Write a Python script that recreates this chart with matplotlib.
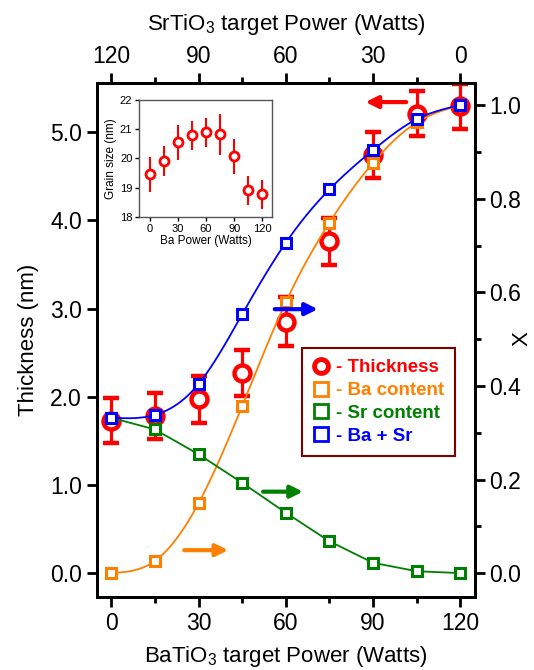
import numpy as np
import matplotlib
matplotlib.use('Agg')
import matplotlib.pyplot as plt
from matplotlib.lines import Line2D

plt.rcParams['font.family'] = ['Liberation Sans', 'DejaVu Sans']
plt.rcParams['mathtext.default'] = 'regular'

# BaTiO3 target power (W); SrTiO3 power is 120 - this
ba_power = [0, 15, 30, 45, 60, 75, 90, 105, 120]

# film thickness (nm), left axis
thickness = [1.73, 1.78, 1.97, 2.27, 2.85, 3.76, 4.74, 5.21, 5.29]
thickness_err = [0.26, 0.26, 0.27, 0.26, 0.28, 0.27, 0.26, 0.26, 0.26]

# composition X, right axis
ba_content = [0.0, 0.026, 0.149, 0.357, 0.579, 0.749, 0.877, 0.963, 1.0]
sr_content = [0.332, 0.307, 0.254, 0.193, 0.129, 0.068, 0.022, 0.004, 0.0]
ba_sr = [0.332, 0.338, 0.404, 0.553, 0.706, 0.820, 0.904, 0.970, 1.0]

# inset: grain size vs Ba power
grain_size = [19.45, 19.91, 20.56, 20.79, 20.89, 20.83, 20.08, 18.91, 18.77]
grain_err = [0.6, 0.5, 0.6, 0.5, 0.5, 0.7, 0.6, 0.5, 0.5]

RED = '#ff0000'
ORANGE = '#ff8000'
GREEN = '#008000'
BLUE = '#0000ff'


def smooth(x, y, n=300):
    # natural cubic spline through the points
    x = np.asarray(x, float)
    y = np.asarray(y, float)
    k = len(x)
    h = np.diff(x)
    A = np.zeros((k, k))
    b = np.zeros(k)
    A[0, 0] = A[-1, -1] = 1.0
    for i in range(1, k - 1):
        A[i, i - 1] = h[i - 1]
        A[i, i] = 2 * (h[i - 1] + h[i])
        A[i, i + 1] = h[i]
        b[i] = 6 * ((y[i + 1] - y[i]) / h[i] - (y[i] - y[i - 1]) / h[i - 1])
    M = np.linalg.solve(A, b)
    xs = np.linspace(x[0], x[-1], n)
    idx = np.clip(np.searchsorted(x, xs) - 1, 0, k - 2)
    x0, x1 = x[idx], x[idx + 1]
    hh = x1 - x0
    t0, t1 = x1 - xs, xs - x0
    ys = (M[idx] * t0 ** 3 + M[idx + 1] * t1 ** 3) / (6 * hh) \
        + (y[idx] / hh - M[idx] * hh / 6) * t0 \
        + (y[idx + 1] / hh - M[idx + 1] * hh / 6) * t1
    return xs, ys


fig = plt.figure(figsize=(5.34, 6.70), dpi=100)
ax = fig.add_axes([0.181, 0.109, 0.7084, 0.7676])
ax2 = ax.twinx()

# thickness
ax.errorbar(ba_power, thickness, yerr=thickness_err, fmt='o', color=RED,
            mfc='white', mec=RED, ms=11.5, mew=3.2, elinewidth=2.3,
            capsize=5.5, capthick=2.3, zorder=3)

# composition curves
xs, ys = smooth(ba_power, ba_content)
ax2.plot(xs, ys, color=ORANGE, lw=1.3)
ax2.plot(ba_power, sr_content, color=GREEN, lw=1.3)
xs, ys = smooth(ba_power, ba_sr)
ax2.plot(xs, ys, color=BLUE, lw=1.3)
for vals, c in [(ba_content, ORANGE), (sr_content, GREEN), (ba_sr, BLUE)]:
    ax2.plot(ba_power, vals, ls='none', marker='s', ms=7.5, mfc='white',
             mec=c, mew=2.2)

# arrows pointing to each axis
arr = dict(arrowstyle='-|>', lw=3, mutation_scale=18, shrinkA=0, shrinkB=0)
ax.annotate('', xy=(87.4, 5.34), xytext=(101.4, 5.34),
            arrowprops=dict(arr, color=RED))
ax2.annotate('', xy=(71, 0.564), xytext=(56.2, 0.564),
             arrowprops=dict(arr, color=BLUE))
ax2.annotate('', xy=(65.9, 0.174), xytext=(52.2, 0.174),
             arrowprops=dict(arr, color=GREEN))
ax2.annotate('', xy=(40.2, 0.049), xytext=(25.1, 0.049),
             arrowprops=dict(arr, color=ORANGE))

ax.set_xlim(-5, 125)
ax.set_ylim(-0.27, 5.56)
ax2.set_ylim(-0.051, 1.048)

ax.set_xticks([0, 30, 60, 90, 120])
ax.set_xticks([15, 45, 75, 105], minor=True)
ax.set_yticks([0, 1, 2, 3, 4, 5])
ax.set_yticklabels(['0.0', '1.0', '2.0', '3.0', '4.0', '5.0'])
ax2.set_yticks([0, 0.2, 0.4, 0.6, 0.8, 1.0])
ax2.set_yticks([0.1, 0.3, 0.5, 0.7, 0.9], minor=True)

for a in (ax, ax2):
    a.tick_params(which='major', direction='out', length=7, width=2,
                  labelsize=16.5)
    a.tick_params(which='minor', direction='out', length=4, width=2)
    for s in a.spines.values():
        s.set_linewidth(2)

sec = ax.secondary_xaxis('top', functions=(lambda x: 120 - x, lambda x: 120 - x))
sec.set_xticks([120, 90, 60, 30, 0])
sec.set_xticks([105, 75, 45, 15], minor=True)
sec.tick_params(which='major', direction='out', length=7, width=2, labelsize=16.5)
sec.tick_params(which='minor', direction='out', length=4, width=2)
sec.spines['top'].set_linewidth(2)
sec.set_xlabel('SrTiO$_3$ target Power (Watts)', fontsize=16, labelpad=11)

ax.set_xlabel('BaTiO$_3$ target Power (Watts)', fontsize=16, labelpad=7)
ax.set_ylabel('Thickness (nm)', fontsize=16, labelpad=8)
# right axis title
fig.text(0.978, 0.494, 'X', rotation=90, fontsize=16, ha='center', va='center')

# legend
handles = [
    Line2D([], [], ls='none', marker='o', ms=10, mfc='white', mec=RED, mew=3.5),
    Line2D([], [], ls='none', marker='s', ms=10, mfc='white', mec=ORANGE, mew=2),
    Line2D([], [], ls='none', marker='s', ms=10, mfc='white', mec=GREEN, mew=2),
    Line2D([], [], ls='none', marker='s', ms=10, mfc='white', mec=BLUE, mew=2),
]
labels = ['- Thickness', '- Ba content', '- Sr content', '- Ba + Sr']
leg = ax2.legend(handles, labels, loc='upper left', bbox_to_anchor=(0.543, 0.484),
                 prop=dict(weight='bold', size=13.5), fancybox=False,
                 edgecolor='#800000', framealpha=1, handlelength=0.8,
                 handletextpad=0.4, borderpad=0.6, labelspacing=0.3,
                 borderaxespad=0)
leg.get_frame().set_linewidth(1.5)
for t, c in zip(leg.get_texts(), [RED, ORANGE, GREEN, BLUE]):
    t.set_color(c)

# inset
axin = fig.add_axes([0.261, 0.6766, 0.248, 0.174])
axin.errorbar(ba_power, grain_size, yerr=grain_err, fmt='o', color=RED,
              mfc='white', mec=RED, ms=6.5, mew=2, elinewidth=1.5,
              capsize=0, zorder=3)
axin.set_xlim(-11, 130)
axin.set_ylim(18, 22)
axin.set_xticks([0, 30, 60, 90, 120])
axin.set_yticks([18, 19, 20, 21, 22])
axin.tick_params(direction='out', length=3, width=1, labelsize=8, pad=2,
                 colors='black')
for s in axin.spines.values():
    s.set_color('#555555')
    s.set_linewidth(1)
axin.set_xlabel('Ba Power (Watts)', fontsize=8.5, labelpad=1)
axin.set_ylabel('Grain size (nm)', fontsize=8.5, labelpad=2)

fig.savefig('out.png', dpi=100)
